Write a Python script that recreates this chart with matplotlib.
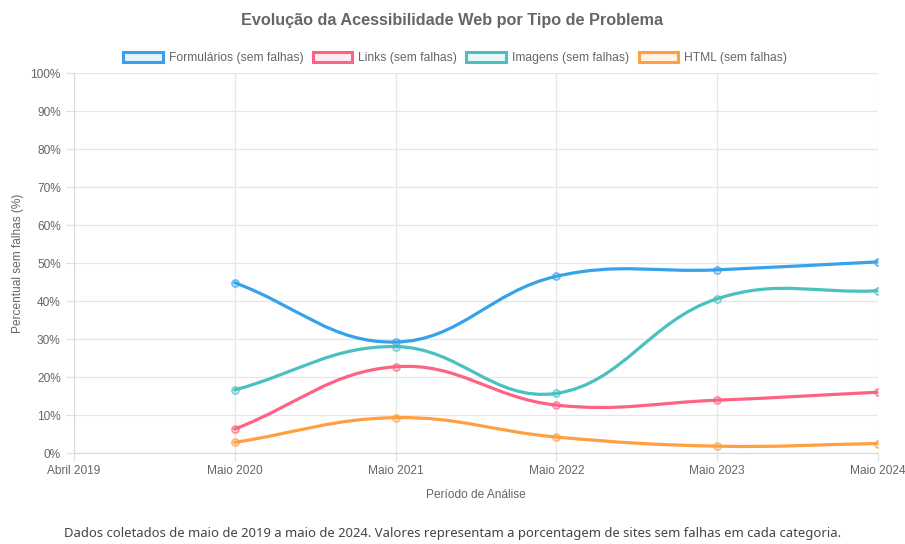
import numpy as np
import matplotlib
matplotlib.use('Agg')
import matplotlib.pyplot as plt
from matplotlib.path import Path
from matplotlib.patches import PathPatch, Patch
from matplotlib.ticker import FuncFormatter, MultipleLocator

plt.rcParams['font.family'] = ['Liberation Sans', 'DejaVu Sans']

periodos = ['Abril 2019', 'Maio 2020', 'Maio 2021', 'Maio 2022', 'Maio 2023', 'Maio 2024']
formularios = [None, 44.8, 29.2, 46.5, 48.2, 50.3]
links = [None, 6.3, 22.7, 12.6, 13.9, 16.0]
imagens = [None, 16.6, 28.0, 15.7, 40.6, 42.7]
html = [None, 2.8, 9.3, 4.2, 1.8, 2.5]

series = [
    ('Formulários (sem falhas)', formularios, '#36A2EB'),
    ('Links (sem falhas)', links, '#FF6384'),
    ('Imagens (sem falhas)', imagens, '#4BC0C0'),
    ('HTML (sem falhas)', html, '#FF9F40'),
]

fig = plt.figure(figsize=(9.05, 5.44), dpi=100)
ax = fig.add_axes([74/905, 1-453/544, (878-74)/905, (453-73)/544])
ax.set_xlim(0, len(periodos) - 1)
ax.set_ylim(0, 100)


def spline_path(xs, ys, tension=0.4):
    # chart.js style bezier, computed in pixel space
    pts = ax.transData.transform(np.column_stack([xs, ys]))
    n = len(pts)
    cps = []
    for i in range(n):
        cur = pts[i]
        prev = pts[i - 1] if i > 0 else cur
        nxt = pts[i + 1] if i < n - 1 else cur
        d01 = np.sqrt(np.hypot(*(cur - prev)))
        d12 = np.sqrt(np.hypot(*(nxt - cur)))
        tot = d01 + d12
        s01 = d01 / tot if tot else 0
        s12 = d12 / tot if tot else 0
        fa, fb = tension * s01, tension * s12
        cps.append((cur - fa * (nxt - prev), cur + fb * (nxt - prev)))
    verts = [pts[0]]
    codes = [Path.MOVETO]
    for i in range(n - 1):
        verts += [cps[i][1], cps[i + 1][0], pts[i + 1]]
        codes += [Path.CURVE4] * 3
    verts = ax.transData.inverted().transform(np.array(verts))
    return Path(verts, codes)


handles = []
for name, vals, color in series:
    xs = [i for i, v in enumerate(vals) if v is not None]
    ys = [v for v in vals if v is not None]
    ax.add_patch(PathPatch(spline_path(xs, ys), facecolor='none', edgecolor=color,
                           lw=2.3, capstyle='round', joinstyle='round', zorder=3))
    ax.scatter(xs, ys, s=26, facecolor=matplotlib.colors.to_rgba(color, 0.2),
               edgecolor=matplotlib.colors.to_rgba(color, 0.7), linewidth=1.2, zorder=4)
    handles.append(Patch(facecolor=matplotlib.colors.to_rgba(color, 0.12),
                         edgecolor=color, linewidth=2.2, label=name))

ax.set_xticks(range(len(periodos)))
ax.set_xticklabels(periodos)
ax.yaxis.set_major_locator(MultipleLocator(10))
ax.yaxis.set_major_formatter(FuncFormatter(lambda v, p: f'{v:.0f}%'))
ax.grid(True, color='#e6e6e6', linewidth=0.9)
ax.set_axisbelow(True)
for s in ['top', 'right']:
    ax.spines[s].set_visible(False)
for s in ['left', 'bottom']:
    ax.spines[s].set_color('#d9d9d9')
ax.tick_params(colors='#e0e0e0', labelcolor='#666666', labelsize=8.6, length=6, width=0.9)
ax.tick_params(axis='x', pad=3)

ax.set_xlabel('Período de Análise', color='#666666', fontsize=8.6, labelpad=8)
ax.set_ylabel('Percentual sem falhas (%)', color='#666666', fontsize=8.6)
ax.yaxis.set_label_coords(-0.0622, 0.5)

fig.text(0.5, 1 - 20/544, 'Evolução da Acessibilidade Web por Tipo de Problema',
         ha='center', va='center', fontsize=11.7, fontweight='bold', color='#666666')

fig.legend(handles=handles, loc='center', bbox_to_anchor=(0.503, 1 - 58/544), ncol=4,
           frameon=False, fontsize=8.7, handlelength=3.3, handleheight=0.9,
           columnspacing=0.75, handletextpad=0.5, labelcolor='#666666')

fig.text(0.5, 1 - 534/544,
         'Dados coletados de maio de 2019 a maio de 2024. Valores representam a porcentagem de sites sem falhas em cada categoria.',
         ha='center', va='center', fontsize=9.4, color='#444444', family=['Noto Sans', 'DejaVu Sans'])

fig.savefig('out.png', dpi=100)
